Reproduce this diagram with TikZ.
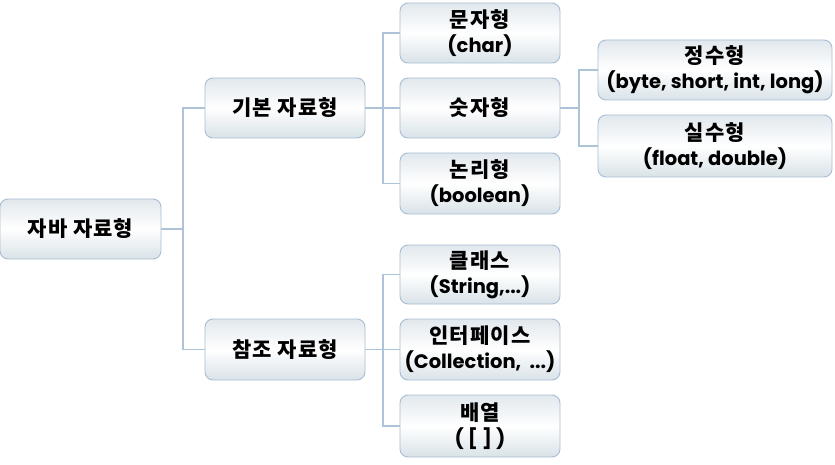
\documentclass[tikz,border=0pt]{standalone}
\usepackage{fontspec}
\setmainfont{Poppins}
\newfontfamily\krfont{Noto Sans CJK KR Bold}[LetterSpace=5]
\usetikzlibrary{positioning}
\definecolor{boxline}{HTML}{A8BDD3}
\definecolor{boxtop}{HTML}{E1E8ED}
\definecolor{boxbot}{HTML}{D8E2E8}
\definecolor{linkc}{HTML}{AFC3D8}
\tikzset{
  typebox/.style={draw=boxline, line width=0.9pt, rounded corners=8pt,
    top color=boxtop, bottom color=boxbot, middle color=white,
    minimum width=160pt, minimum height=60pt, inner sep=0pt, align=center,
    font=\bfseries\fontsize{19.5}{25}\selectfont},
  link/.style={draw=linkc, line width=1.2pt}
}
\newcommand{\kr}[1]{{\krfont\fontsize{21}{25}\selectfont #1}}
\begin{document}
\begin{tikzpicture}[x=1pt,y=-1pt]
        \useasboundingbox (0,0) rectangle (835,465);
        \node[typebox, minimum width=161pt] at (80.5,229) (root) {\kr{자바 자료형}};
        \node[typebox] at (285,108) (basic) {\kr{기본 자료형}};
        \node[typebox, minimum height=61pt] at (285,349.5) (ref) {\kr{참조 자료형}};
        \node[typebox] at (480,33) (char) {\kr{문자형}\\(char)};
        \node[typebox] at (480,108) (num) {\kr{숫자형}};
        \node[typebox, minimum height=61pt] at (480,183.5) (bool) {\kr{논리형}\\(boolean)};
        \node[typebox, minimum height=59pt] at (480,274.5) (cls) {\kr{클래스}\\(String,...)};
        \node[typebox, minimum height=61pt] at (480,349.5) (iface) {\kr{인터페이스}\\(Collection,~~...)};
        \node[typebox, minimum height=62pt] at (480,426) (arr) {\kr{배열}\\( [ ] )};
        \node[typebox, minimum width=234pt] at (715,70) (int) {\kr{정수형}\\(byte, short, int, long)};
        \node[typebox, minimum width=234pt, minimum height=62pt] at (715,146) (real) {\kr{실수형}\\(float, double)};
        \coordinate (rootj) at (183,229);
        \coordinate (basicj) at (383,108);
        \coordinate (numj) at (579,108);
        \coordinate (refj) at (383,349.5);
        \draw[link] (root.east) -- (rootj);
        \draw[link] (rootj) |- (basic.west);
        \draw[link] (rootj) |- (ref.west);
        \draw[link] (basic.east) -- (num.west);
        \draw[link] (basicj) |- (char.west);
        \draw[link] (basicj) |- (bool.west);
        \draw[link] (num.east) -- (numj);
        \draw[link] (numj) |- (int.west);
        \draw[link] (numj) |- (real.west);
        \draw[link] (ref.east) -- (iface.west);
        \draw[link] (refj) |- (cls.west);
        \draw[link] (refj) |- (arr.west);
    \end{tikzpicture}
\end{document}
